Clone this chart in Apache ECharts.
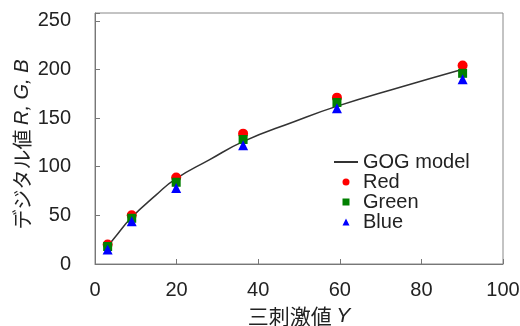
<!DOCTYPE html>
<html>
<head>
<meta charset="utf-8">
<script src="https://cdn.jsdelivr.net/npm/echarts@6/dist/echarts.min.js"></script>
<style>html,body{margin:0;padding:0;background:#fff;}#c{width:520px;height:326px;}</style>
</head>
<body>
<div id="c"></div>
<script>
// Tristimulus value Y of samples
var sampleY = [3.1, 9.0, 19.9, 36.3, 59.3, 90.1];
var redVals = [20, 50, 89, 134, 171, 204];
var greenVals = [18, 47, 84, 128, 166, 196];
var blueVals = [15, 44, 78, 122, 160, 190];
// GOG model curve
var gogY = [3.3, 5, 9, 15, 19.6, 28, 36.4, 48.6, 59.2, 75, 89.5];
var gogVal = [19, 28, 48, 71, 87, 107, 126, 146, 162, 182, 199.5];
var xTicks = [0, 20, 40, 60, 80, 100];
var yTicks = [0, 50, 100, 150, 200, 250];

function pairs(xs, ys) { return xs.map(function (x, i) { return [x, ys[i]]; }); }

var FONT = 'Liberation Sans, Arial, Noto Sans CJK JP, sans-serif';
var chart = echarts.init(document.getElementById('c'), null, {renderer: 'canvas'});
chart.setOption({
  animation: false,
  backgroundColor: '#fff',
  grid: {left: 95, top: 13, width: 408, height: 251, containLabel: false, outerBoundsMode: 'none',
         show: true, borderColor: '#888', borderWidth: 1},
  legend: {
    orient: 'vertical', left: 328, top: 147, itemWidth: 24, itemHeight: 7, itemGap: 0,
    textStyle: {fontSize: 20, color: '#222', fontFamily: FONT},
    data: [
      {name: 'GOG model', itemStyle: {opacity: 0}},
      {name: 'Red', icon: 'circle'},
      {name: 'Green', icon: 'path://M0,0L1,0L1,1L0,1Z'},
      {name: 'Blue', icon: 'path://M0.5,0L1,1L0,1Z'}
    ]
  },
  xAxis: {
    type: 'value', min: 0, max: 100, interval: 20,
    name: '{a|三刺激値 }{i|Y}', nameLocation: 'middle', nameGap: 42,
    nameTextStyle: {rich: {
      a: {fontSize: 21, color: '#222', fontFamily: 'Noto Sans CJK JP'},
      i: {fontSize: 21, color: '#222', fontFamily: FONT, fontStyle: 'italic'}
    }},
    axisLine: {lineStyle: {color: '#777'}},
    axisTick: {inside: true, length: 5, lineStyle: {color: '#777'}},
    axisLabel: {fontSize: 20, color: '#222', fontFamily: FONT, margin: 16,
      formatter: function (v) { return xTicks.indexOf(v) >= 0 ? String(v) : ''; }},
    splitLine: {show: false}
  },
  yAxis: {
    type: 'value', min: 0, max: 258, interval: 50,
    name: '{a|デジタル値 }{i|R, G, B}', nameLocation: 'middle', nameGap: 63, nameMoveOverlap: false,
    nameTextStyle: {padding: [0, 12, 0, 0], rich: {
      a: {fontSize: 20, color: '#222', fontFamily: 'Noto Sans CJK JP'},
      i: {fontSize: 20, color: '#222', fontFamily: FONT, fontStyle: 'italic'}
    }},
    axisLine: {show: true, lineStyle: {color: '#777'}},
    axisTick: {inside: true, length: 5, lineStyle: {color: '#777'}},
    axisLabel: {fontSize: 20, color: '#222', fontFamily: FONT, margin: 24,
      formatter: function (v) { return yTicks.indexOf(v) >= 0 ? String(v) : ''; }},
    splitLine: {show: false}
  },
  series: [
    {name: 'GOG model', type: 'line', smooth: true, showSymbol: false, symbol: 'none',
     data: pairs(gogY, gogVal), lineStyle: {color: '#333', width: 1.5}, itemStyle: {color: '#333'}, z: 1},
    {name: 'Red', type: 'scatter', symbol: 'circle', symbolSize: 10,
     data: pairs(sampleY, redVals), itemStyle: {color: '#ff0000', opacity: 1}, z: 2},
    {name: 'Green', type: 'scatter', symbol: 'rect', symbolSize: 9,
     data: pairs(sampleY, greenVals), itemStyle: {color: '#008000', opacity: 1}, z: 3},
    {name: 'Blue', type: 'scatter', symbol: 'triangle', symbolSize: 10,
     data: pairs(sampleY, blueVals), itemStyle: {color: '#0000ff', opacity: 1}, z: 4}
  ]
});
</script>
</body>
</html>
